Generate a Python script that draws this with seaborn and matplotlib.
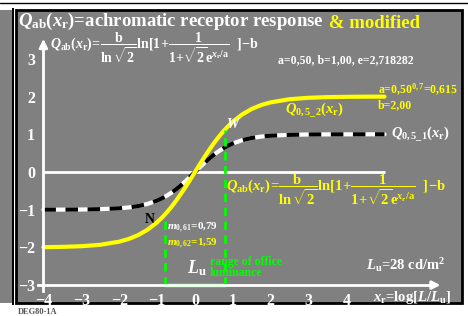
import numpy as np
import pandas as pd
import seaborn as sns
import matplotlib
matplotlib.use("Agg")
import matplotlib.pyplot as plt
from matplotlib.patches import Rectangle

# curve values
x_vals = [-4, -3.5, -3, -2.5, -2, -1.75, -1.5, -1.25, -1, -0.875, -0.75, -0.625, -0.5, -0.375,
          -0.25, -0.125, 0, 0.125, 0.25, 0.375, 0.5, 0.625, 0.75, 0.875, 1, 1.25, 1.5, 1.75,
          2, 2.5, 3, 3.5, 4, 4.5, 5]
q1_vals = [-0.999, -0.998, -0.995, -0.986, -0.963, -0.940, -0.904, -0.846, -0.758, -0.700,
           -0.631, -0.551, -0.459, -0.355, -0.243, -0.123, 0.0, 0.123, 0.243, 0.355, 0.459,
           0.551, 0.631, 0.700, 0.758, 0.846, 0.904, 0.940, 0.963, 0.986, 0.995, 0.998,
           0.999, 1.0, 1.0]
q2_vals = [-1.994, -1.986, -1.969, -1.931, -1.848, -1.777, -1.674, -1.530, -1.335, -1.216,
           -1.080, -0.930, -0.765, -0.586, -0.397, -0.201, 0.0, 0.201, 0.397, 0.586, 0.765,
           0.930, 1.080, 1.216, 1.335, 1.530, 1.674, 1.777, 1.848, 1.931, 1.969, 1.986,
           1.994, 1.998, 1.999]
x_ticks = [-4, -3, -2, -1, 0, 1, 2, 3, 4]
y_ticks = [-3, -2, -1, 0, 1, 2, 3]
office_range = [-0.79, 0.79]
office_top = [-1.18, 1.12]

df = pd.DataFrame({"x": x_vals, "q1": q1_vals, "q2": q2_vals})

sns.set_style("white")
plt.rcParams['font.family'] = ['Liberation Serif', 'DejaVu Serif']
plt.rcParams['font.weight'] = 'bold'
plt.rcParams['mathtext.fontset'] = 'custom'
plt.rcParams['mathtext.rm'] = 'Liberation Serif:bold'
plt.rcParams['mathtext.it'] = 'Liberation Serif:italic:bold'
plt.rcParams['mathtext.bf'] = 'Liberation Serif:bold'

W, H = 468, 316
gray = '#808080'
yel = '#ffff00'
grn = '#00ff00'

fig = plt.figure(figsize=(W / 100, H / 100), dpi=100, facecolor='white')

def fx(px):
    return px / W

def fy(py):
    return 1 - py / H

# frame (behind the axes)
fig.add_artist(Rectangle((0, fy(303)), fx(12), fy(10) - fy(303), transform=fig.transFigure,
                         facecolor=gray, edgecolor='none', zorder=-2))
fig.add_artist(Rectangle((fx(12), fy(305)), fx(1.5), fy(8) - fy(305), transform=fig.transFigure,
                         facecolor='black', edgecolor='none', zorder=-2))
fig.add_artist(plt.Line2D([0, 1], [fy(2.5), fy(2.5)], transform=fig.transFigure, color='black',
                          lw=1, zorder=-2))
fig.add_artist(Rectangle((fx(15.5), fy(303)), fx(462) - fx(15.5), fy(9.5) - fy(303),
                         transform=fig.transFigure, facecolor=gray, edgecolor='black', lw=2,
                         zorder=-2))

ax = fig.add_axes([fx(16), fy(303), fx(462) - fx(16), fy(10) - fy(303)])
ax.set_facecolor('none')
ax.set_xlim((16 - 195) / 37.9, (462 - 195) / 37.9)
ax.set_ylim((172 - 303) / 37.7, (172 - 10) / 37.7)

# axes through the data
for s in ['top', 'right']:
    ax.spines[s].set_visible(False)
ax.spines['left'].set_position(('data', -4))
ax.spines['bottom'].set_position(('data', -3))
ax.spines['left'].set_bounds(-3.15, 3.4)
ax.spines['bottom'].set_bounds(-4.15, 6.3)
for s in ['left', 'bottom']:
    ax.spines[s].set_color('white')
    ax.spines[s].set_linewidth(2)
ax.annotate('', xy=(6.55, -3), xytext=(6.2, -3),
            arrowprops=dict(arrowstyle='-|>', color='white', lw=2, mutation_scale=12))
ax.annotate('', xy=(-4, 3.6), xytext=(-4, 3.3),
            arrowprops=dict(arrowstyle='-|>', color='white', lw=2, mutation_scale=12))
ax.set_xticks(x_ticks)
ax.set_yticks(y_ticks)
ax.set_xticklabels([str(t).replace('-', '\u2212') for t in x_ticks])
ax.set_yticklabels([str(t).replace('-', '\u2212') for t in y_ticks])
ax.tick_params(direction='inout', length=10, width=2, color='white', labelcolor='white',
               labelsize=11.5, pad=1)
ax.hlines(0, -4, 5, color='white', lw=2)

# curves
sns.lineplot(data=df, x='x', y='q1', ax=ax, color='white', lw=3)
ax.plot(df['x'], df['q1'], color='black', lw=3, dashes=(3, 2.3))
sns.lineplot(data=df, x='x', y='q2', ax=ax, color=yel, lw=3)
ax.set_xlabel('')
ax.set_ylabel('')

# office luminance range
ax.vlines(office_range, -3, office_top, colors=grn, lw=2, linestyles=(0, (3, 2)))
ax.hlines(-3, office_range[0], office_range[1], colors=grn, lw=3.5)

# texts
t1 = ax.text(-4.67, 4.0, r'$Q_{\mathrm{ab}}(x_{\mathrm{r}})$=achromatic receptor response',
             color='white', fontsize=13.5, va='center', ha='left')
ax.annotate(' & modified', xy=(1, 0), xycoords=t1, color=yel, fontsize=13.5,
            va='bottom', ha='left')
formula = (r'$Q_{\mathrm{ab}}(x_{\mathrm{r}})\!=\!\dfrac{\mathrm{b}}{\ln\sqrt{2}}\ln[1\!+\!'
           r'\dfrac{1}{1\!+\!\sqrt{2}\mathrm{e}^{x_{\mathrm{r}}/\mathrm{a}}}\ \ ]\!-\!\mathrm{b}$')
ax.text(-3.83, 3.3, formula, color='white', fontsize=10, va='center', ha='left')
ax.text(0.82, -0.48, formula, color=yel, fontsize=10.5, va='center', ha='left')
ax.text(2.19, 2.88, 'a=0,50, b=1,00, e=2,718282', color='white', fontsize=8.5, ha='left')
ax.text(4.83, 2.08, r'a=0,50$^{0,7}$=0,615', color=yel, fontsize=8.5, ha='left')
ax.text(4.83, 1.7, 'b=2,00', color=yel, fontsize=8.5, ha='left')
ax.text(2.37, 1.56, r'$Q_{0,5\_2}(x_{\mathrm{r}})$', color=yel, fontsize=10.5, ha='left')
ax.text(5.17, 0.93, r'$Q_{0,5\_1}(x_{\mathrm{r}})$', color='white', fontsize=10.5, ha='left')
ax.text(0.98, 1.25, 'W', color='white', fontsize=10, style='italic', ha='center', va='center')
ax.text(-1.19, -1.27, 'N', color='black', fontsize=10, ha='center', va='center')
ax.text(-0.74, -1.48, r'$m_{0,61}$=0,79', color='white', fontsize=8, ha='left', va='center')
ax.text(-0.74, -1.90, r'$m_{0,62}$=1,59', color=yel, fontsize=8, ha='left', va='center')
ax.text(-0.21, -2.55, r'$L_{\mathrm{u}}$', color='white', fontsize=13, ha='left', va='center')
ax.text(0.40, -2.39, 'range of office', color=grn, fontsize=8.5, ha='left', va='center')
ax.text(0.40, -2.68, 'luminance', color=grn, fontsize=8.5, ha='left', va='center')
ax.text(4.51, -2.47, r'$L_{\mathrm{u}}$=28 cd/m$^2$', color='white', fontsize=10.5,
        ha='left', va='center')
ax.text(4.70, -3.34, r'$x_{\mathrm{r}}$=log[$L/L_{\mathrm{u}}$]', color='white', fontsize=10.5,
        ha='left', va='center')

fig.text(fx(18), fy(312), 'DEG80-1A', color='#555555', fontsize=6, ha='left', va='center')

fig.savefig('out.png', dpi=100, facecolor='white')
